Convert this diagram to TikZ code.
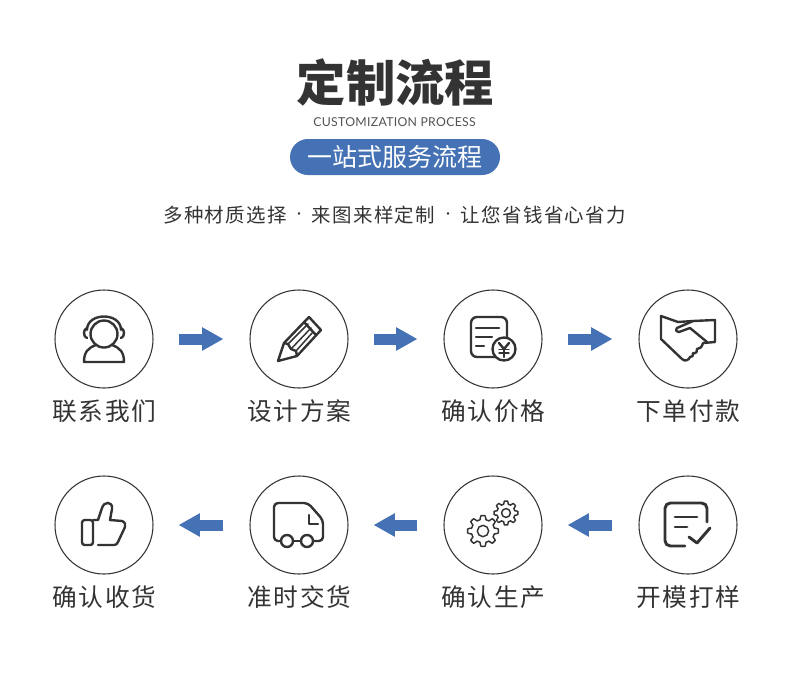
\documentclass[tikz,border=0pt]{standalone}
\usepackage{fontspec}
\usepackage{xcolor}
\usetikzlibrary{arrows.meta}
\newfontfamily\cjk{Noto Sans CJK SC}
\newfontfamily\cjklabel[LetterSpace=7]{Noto Sans CJK SC}
\newfontfamily\cjksub[LetterSpace=7]{Noto Sans CJK SC}
\newfontfamily\latinsub[LetterSpace=2.5]{Lato}
\definecolor{ink}{HTML}{333333}
\definecolor{flowblue}{HTML}{4472B5}
\tikzset{
	stepcirc/.style={circle,draw=ink,line width=0.8pt,minimum size=73.5pt,inner sep=0pt},
	steplabel/.style={text=ink,inner sep=0pt,font=\cjklabel\fontsize{18.5}{18.5}\selectfont},
	flowarrow/.style={draw=flowblue,line width=8.25pt,-{Triangle[length=16pt,width=16.5pt,fill=flowblue]},shorten <=18.75pt,shorten >=19.5pt},
	flowback/.style={draw=flowblue,line width=8.25pt,-{Triangle[length=16pt,width=16.5pt,fill=flowblue]},shorten <=19.5pt,shorten >=18.75pt},
	iconline/.style={draw=ink,line width=1.8pt,line join=round,line cap=round},
	iconthin/.style={draw=ink,line width=1.1pt,line join=round,line cap=round}
}
\newcommand{\geardraw}[3]{\draw[iconthin,fill=white] plot[samples=145,domain=0:360] ({#1+(#3+0.14*#3*max(-1,min(1,2.2*cos(8*\x))))*cos(\x)},{#2+(#3+0.14*#3*max(-1,min(1,2.2*cos(8*\x))))*sin(\x)}) -- cycle;
	\draw[iconthin] (#1,#2) circle (0.42*#3);}
\begin{document}
\begin{tikzpicture}[x=0.75pt,y=-0.75pt]
	\useasboundingbox (0,0) rectangle (790,683);

	\node[text=ink,inner sep=0pt,font=\cjk\bfseries\fontsize{37}{37}\selectfont] (title) at (395.5,82) {定制流程};
	\node[text=ink!85,inner sep=0pt,font=\latinsub\fontsize{9.2}{9.2}\selectfont] (entitle) at (394.5,122) {CUSTOMIZATION PROCESS};
	\node[fill=flowblue,rounded corners=13.5pt,minimum width=157.5pt,minimum height=27pt,inner sep=0pt] (pill) at (395,157) {};
	\node[text=white,inner sep=0pt,font=\cjk\fontsize{18.75}{18.75}\selectfont] (pilltext) at (395,157) {一站式服务流程};
	\node[text=ink,inner sep=0pt,font=\cjksub\fontsize{14.6}{14.6}\selectfont] (sub1) at (225,215.5) {多种材质选择};
	\node[text=ink,inner sep=0pt,font=\cjk\fontsize{9}{9}\selectfont] (dot1) at (299,215.5) {·};
	\node[text=ink,inner sep=0pt,font=\cjksub\fontsize{14.6}{14.6}\selectfont] (sub2) at (373.5,215.5) {来图来样定制};
	\node[text=ink,inner sep=0pt,font=\cjk\fontsize{9}{9}\selectfont] (dot2) at (448,215.5) {·};
	\node[text=ink,inner sep=0pt,font=\cjksub\fontsize{14.6}{14.6}\selectfont] (sub3) at (543.5,215.5) {让您省钱省心省力};

	\node[stepcirc] (contact) at (104,339) {};
	\node[stepcirc] (design) at (299,339) {};
	\node[stepcirc] (price) at (493,339) {};
	\node[stepcirc] (order) at (688,339) {};
	\node[stepcirc] (receipt) at (104,525) {};
	\node[stepcirc] (deliver) at (299,525) {};
	\node[stepcirc] (produce) at (493,525) {};
	\node[stepcirc] (mould) at (688,525) {};

	\node[steplabel] (contactlabel) at (104.5,411) {联系我们};
	\node[steplabel] (designlabel) at (299.5,411) {设计方案};
	\node[steplabel] (pricelabel) at (493.5,411) {确认价格};
	\node[steplabel] (orderlabel) at (688.5,411) {下单付款};
	\node[steplabel] (receiptlabel) at (104.5,597) {确认收货};
	\node[steplabel] (deliverlabel) at (299.5,597) {准时交货};
	\node[steplabel] (producelabel) at (493.5,597) {确认生产};
	\node[steplabel] (mouldlabel) at (688.5,597) {开模打样};

	\draw[flowarrow] (contact) -- (design);
	\draw[flowarrow] (design) -- (price);
	\draw[flowarrow] (price) -- (order);
	\draw[flowback] (mould) -- (produce);
	\draw[flowback] (produce) -- (deliver);
	\draw[flowback] (deliver) -- (receipt);

	\begin{scope}[shift={(contact.center)}]
		\draw[iconline] (0,-5) circle (13.5);
		\draw[iconline] (-17,-9) .. controls (-17,-27) and (17,-27) .. (17,-9);
		\draw[iconline] (-17,-11) .. controls (-21,-10) and (-21,-2) .. (-17,-1);
		\draw[iconline] (17,-11) .. controls (21,-10) and (21,-2) .. (17,-1);
		\draw[iconline] (-8,6) .. controls (-16,9) and (-20,13) .. (-20,23) -- (20,23) .. controls (20,13) and (16,9) .. (8,6);
	\end{scope}

	\begin{scope}[shift={(design.center)}]
		\draw[iconline] (-21,22) -- (-15,4) -- (10,-22) -- (22,-9) -- (-2,17) -- cycle;
		\draw[iconline] (5,-17) -- (17,-4);
		\draw[iconline] (-15,4) -- (-11,5) -- (-8,10) -- (-3,12) -- (-2,17);
		\draw[iconthin] (-11,5) -- (9,-15);
		\draw[iconthin] (-8,10) -- (12,-11);
		\draw[iconthin] (-3,12) -- (14,-7);
	\end{scope}

	\begin{scope}[shift={(price.center)}]
		\draw[iconline,rounded corners=4.5pt] (-22,-22) rectangle (14,18);
		\draw[iconline] (-17,-11) -- (6,-11);
		\draw[iconline] (-17,-2) -- (-1,-2);
		\draw[iconline] (-17,7) -- (-9,7);
		\draw[iconline,fill=white] (11,10) circle (11.5);
		\draw[iconline] (6,4) -- (11,10) -- (16,4);
		\draw[iconline] (11,10) -- (11,18);
		\draw[iconthin] (6,10.5) -- (16,10.5);
		\draw[iconthin] (6,14) -- (16,14);
	\end{scope}

	\begin{scope}[shift={(order.center)}]
		\draw[iconline] (-27,-23) -- (-27,0) -- (-6,20) .. controls (-3,23) and (1,21) .. (2,18) .. controls (4,19) and (6,16) .. (5,14) .. controls (8,15) and (10,12) .. (9,10) .. controls (12,10) and (14,8) .. (15,4) -- (27,3) -- (27,-19) -- (5,-18) -- (-10,-17) -- cycle;
		\draw[iconline] (5,-18) -- (-11,-11) .. controls (-13,-9) and (-11,-6) .. (-9,-7) -- (2,-11) -- (19,3);
	\end{scope}

	\begin{scope}[shift={(receipt.center)}]
		\draw[iconline,rounded corners=2pt] (-11,-5) -- (-22,-5) -- (-22,20) -- (-11,20) -- cycle;
		\draw[iconline] (-11,-5) -- (-6,-5) -- (-2,-17) .. controls (0,-24) and (9,-24) .. (8,-16) -- (6,-5) -- (18,-4) .. controls (21,-3) and (22,0) .. (21,2) -- (14,17) .. controls (13,19) and (12,20) .. (10,20) -- (-6,20);
	\end{scope}

	\begin{scope}[shift={(deliver.center)}]
		\draw[iconline,rounded corners=3pt] (-19,16) -- (-25,16) -- (-25,-22) -- (9,-22) -- (24,-5) -- (24,16) -- (14,16);
		\draw[iconline] (-6,16) -- (2,16);
		\draw[iconline] (-12,16) circle (6);
		\draw[iconline] (8,16) circle (6);
		\draw[iconline] (10,-10) -- (10,-1) -- (19,-1);
	\end{scope}

	\begin{scope}[shift={(produce.center)}]
		\geardraw{-10}{6}{13.5}
		\geardraw{13}{-12}{10.5}
	\end{scope}

	\begin{scope}[shift={(mould.center)}]
		\draw[iconline,line width=2.2pt,rounded corners=4pt] (19,-3) -- (19,-22) -- (-23,-22) -- (-23,21) -- (-3,21);
		\draw[iconline,line width=2.2pt] (-13,-8) -- (9,-8);
		\draw[iconline,line width=2.2pt] (-13,2) -- (-1,2);
		\draw[iconline,line width=2.2pt] (1,12) -- (9,18) -- (22,3);
	\end{scope}
\end{tikzpicture}
\end{document}
